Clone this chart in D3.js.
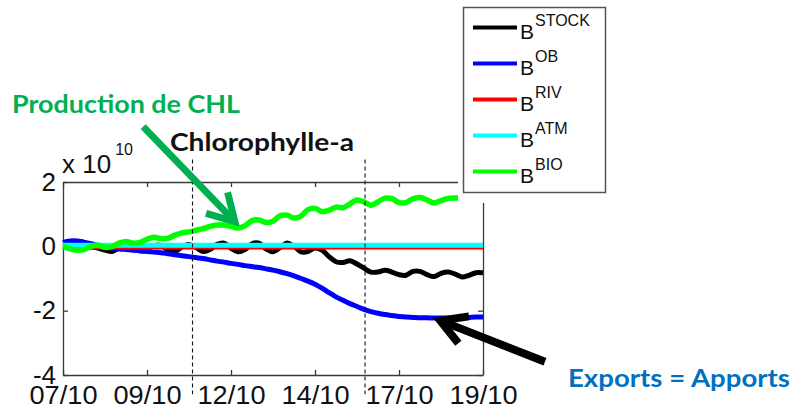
<!DOCTYPE html>
<html>
<head>
<meta charset="utf-8">
<script src="https://cdn.jsdelivr.net/npm/d3@7"></script>
<style>
  html, body { margin: 0; padding: 0; background: #fff; }
  svg { display: block; }
</style>
</head>
<body>
<svg id="chart" width="795" height="412"></svg>
<script>
// Sampling grid: day of October, every 0.2 day from 07/10 to 19/10
const sampleDays = d3.range(61).map(i => 7 + i * 0.2);

// Budget terms (x 1e10)
const stock = [0.00, 0.02, -0.02, -0.06, -0.02, -0.05, -0.12, -0.16, -0.05, 0.04,
  -0.02, -0.14, -0.10, 0.02, 0.03, -0.12, -0.16, -0.02, 0.06, -0.04,
  -0.16, -0.10, 0.06, 0.10, -0.06, -0.17, -0.10, 0.08, 0.10, -0.08,
  -0.17, -0.04, 0.10, 0.00, -0.17, -0.16, -0.05, -0.12, -0.32, -0.48,
  -0.50, -0.45, -0.55, -0.68, -0.80, -0.80, -0.74, -0.80, -0.88, -0.90,
  -0.78, -0.78, -0.88, -0.94, -0.84, -0.80, -0.86, -0.95, -0.90, -0.82, -0.82];

const ob = [0.12, 0.17, 0.17, 0.13, 0.08, 0.03, -0.01, -0.05, -0.08, -0.10,
  -0.12, -0.14, -0.16, -0.18, -0.20, -0.23, -0.26, -0.29, -0.32, -0.35,
  -0.38, -0.42, -0.46, -0.49, -0.53, -0.56, -0.60, -0.63, -0.66, -0.70,
  -0.74, -0.79, -0.85, -0.92, -1.00, -1.08, -1.18, -1.30, -1.44, -1.57,
  -1.68, -1.78, -1.87, -1.96, -2.03, -2.08, -2.12, -2.15, -2.18, -2.20,
  -2.21, -2.22, -2.22, -2.23, -2.23, -2.23, -2.22, -2.22, -2.21, -2.20, -2.20];

const bio = [0.00, -0.08, -0.12, -0.10, 0.00, 0.03, -0.03, -0.01, 0.10, 0.15,
  0.10, 0.12, 0.22, 0.28, 0.24, 0.25, 0.35, 0.42, 0.45, 0.50,
  0.55, 0.62, 0.66, 0.66, 0.62, 0.57, 0.64, 0.80, 0.82, 0.74,
  0.78, 0.95, 0.97, 0.88, 0.94, 1.14, 1.18, 1.08, 1.12, 1.22,
  1.20, 1.32, 1.44, 1.38, 1.28, 1.38, 1.50, 1.48, 1.36, 1.36,
  1.48, 1.52, 1.44, 1.35, 1.42, 1.49, 1.50, 1.50, 1.50, 1.50, 1.50];

// River and atmosphere terms stay flat over the period
const flatDays = [7, 19];
const riv = [-0.05, -0.05];
const atm = [0.03, 0.03];

// Axes
const tickDays = [7, 9.4, 11.8, 14.2, 16.6, 19];
const tickLabels = ["07/10", "09/10", "12/10", "14/10", "17/10", "19/10"];
const yTicks = [2, 0, -2, -4];

// Vertical dashed markers (day of October)
const markerDays = [10.7, 15.63];

// Legend
const legendNames = ["STOCK", "OB", "RIV", "ATM", "BIO"];
const seriesColors = ["#000000", "#0000ff", "#ff0000", "#00ffff", "#00ff00"];

const svg = d3.select("#chart");
const x = d3.scaleLinear().domain([7, 19]).range([63, 483]);
const y = d3.scaleLinear().domain([-4, 2]).range([375, 182]);

const axisColor = "#3a3a3a";
const tickFont = "'Liberation Sans', Arial, sans-serif";

function styleAxis(g) {
  g.select(".domain").attr("stroke", axisColor).attr("stroke-width", 1.3);
  g.selectAll(".tick line").attr("stroke", axisColor).attr("stroke-width", 1.3);
  g.selectAll("text").attr("fill", "#111").style("font-family", tickFont).style("font-size", "26px");
}

// Axis box
svg.append("g").attr("transform", `translate(0,${y(-4)})`)
  .call(d3.axisBottom(x).tickValues(tickDays).tickFormat((d, i) => tickLabels[i]).tickSizeInner(-5).tickSizeOuter(0))
  .call(styleAxis)
  .call(g => g.selectAll("text").attr("y", 28.5).attr("dy", 0).attr("textLength", 68).attr("lengthAdjust", "spacingAndGlyphs"));
svg.append("g").attr("transform", `translate(0,${y(2)})`)
  .call(d3.axisTop(x).tickValues(tickDays).tickFormat("").tickSizeInner(-5).tickSizeOuter(0))
  .call(styleAxis);
svg.append("g").attr("transform", `translate(${x(7)},0)`)
  .call(d3.axisLeft(y).tickValues(yTicks).tickFormat(d => String(d)).tickSizeInner(-5).tickSizeOuter(0).tickPadding(7))
  .call(styleAxis);
svg.append("g").attr("transform", `translate(${x(19)},0)`)
  .call(d3.axisRight(y).tickValues(yTicks).tickFormat("").tickSizeInner(-5).tickSizeOuter(0))
  .call(styleAxis);

// Exponent label
const expo = svg.append("text").attr("x", 62).attr("y", 173)
  .style("font-family", tickFont).style("font-size", "26px").attr("fill", "#111")
  .text("x 10");
expo.append("tspan").attr("dx", 4).attr("dy", -18).style("font-size", "16px").text("10");

// Series, drawn in legend order
const line = d3.line().x(d => x(d[0])).y(d => y(d[1])).curve(d3.curveCatmullRom.alpha(0.5));
const series = [
  { days: sampleDays, vals: stock, width: 5 },
  { days: sampleDays, vals: ob, width: 5 },
  { days: flatDays, vals: riv, width: 3 },
  { days: flatDays, vals: atm, width: 5 },
  { days: sampleDays, vals: bio, width: 5.5 }
];
series.forEach((s, i) => {
  svg.append("path")
    .datum(s.days.map((d, j) => [d, s.vals[j]]))
    .attr("d", line)
    .attr("fill", "none")
    .attr("stroke", seriesColors[i])
    .attr("stroke-width", s.width)
    .attr("stroke-linejoin", "round")
    .attr("stroke-linecap", "butt");
});

// Dashed day markers
svg.selectAll(".marker").data(markerDays).enter().append("line")
  .attr("class", "marker")
  .attr("x1", d => x(d)).attr("x2", d => x(d))
  .attr("y1", y(2.7)).attr("y2", y(-4.6))
  .attr("stroke", "#111").attr("stroke-width", 1.1)
  .attr("stroke-dasharray", "4,3");

// Legend (white panel over the top-right corner of the axes)
const lg = svg.append("g");
lg.append("rect").attr("x", 458).attr("y", 0).attr("width", 160).attr("height", 203).attr("fill", "#fff");
lg.append("rect").attr("x", 463.5).attr("y", 7.5).attr("width", 142).attr("height", 185)
  .attr("fill", "#fff").attr("stroke", "#555").attr("stroke-width", 1.5);
legendNames.forEach((name, i) => {
  const ly = 27.5 + i * 36;
  lg.append("line").attr("x1", 473).attr("x2", 517).attr("y1", ly).attr("y2", ly)
    .attr("stroke", seriesColors[i]).attr("stroke-width", 4);
  const t = lg.append("text").attr("x", 520).attr("y", ly + 11)
    .style("font-family", tickFont).style("font-size", "21px").attr("fill", "#111").text("B");
  t.append("tspan").attr("dx", 1).attr("dy", -13).style("font-size", "16px").text(name);
});

// Annotations
function drawArrow(from, to, color, width, headLen) {
  const x0 = x(from[0]), y0 = y(from[1]), x1 = x(to[0]), y1 = y(to[1]);
  const ang = Math.atan2(y0 - y1, x0 - x1);
  const a = Math.PI / 6;
  const p1 = [x1 + headLen * Math.cos(ang + a), y1 + headLen * Math.sin(ang + a)];
  const p2 = [x1 + headLen * Math.cos(ang - a), y1 + headLen * Math.sin(ang - a)];
  svg.append("line").attr("x1", x0).attr("y1", y0).attr("x2", x1).attr("y2", y1)
    .attr("stroke", color).attr("stroke-width", width);
  svg.append("path").attr("d", `M${p1[0]},${p1[1]}L${x1},${y1}L${p2[0]},${p2[1]}`)
    .attr("fill", "none").attr("stroke", color).attr("stroke-width", width)
    .attr("stroke-linejoin", "miter").attr("stroke-miterlimit", 10);
}
drawArrow([9.29, 3.72], [11.91, 0.77], "#00b050", 7, 30);
drawArrow([20.77, -3.59], [17.78, -2.31], "#000000", 8, 29);

const noteFont = "Lato, 'Open Sans', sans-serif";
function note(txt, tx, ty, len, color) {
  svg.append("text").attr("x", tx).attr("y", ty)
    .attr("textLength", len).attr("lengthAdjust", "spacingAndGlyphs")
    .style("font-family", noteFont).style("font-weight", 700).style("font-size", "24px")
    .attr("fill", color).text(txt);
}
note("Production de CHL", 12, 113, 228, "#00b050");
note("Chlorophylle-a", 170, 151, 184, "#111111");
note("Exports = Apports", 568, 387, 222, "#0070c0");
</script>
</body>
</html>
